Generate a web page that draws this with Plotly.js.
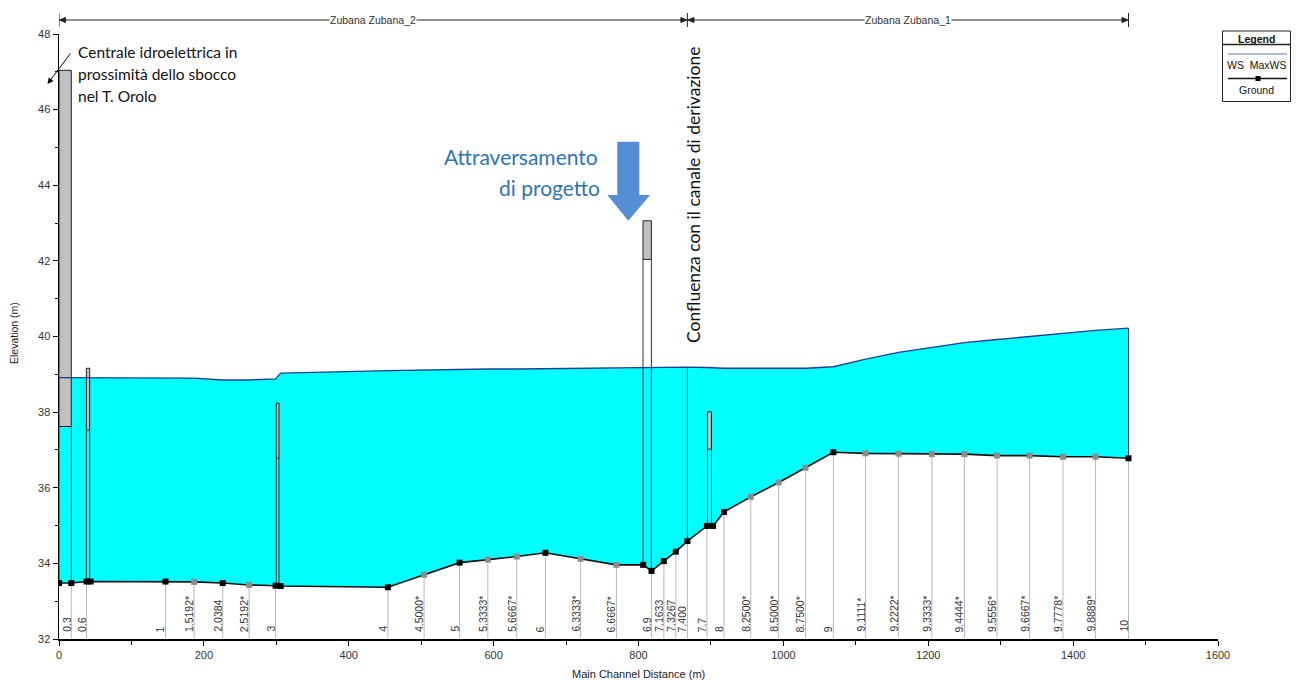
<!DOCTYPE html>
<html>
<head>
<meta charset="utf-8">
<script src="https://cdn.plot.ly/plotly-3.0.1.min.js"></script>
<style>
  html, body { margin: 0; padding: 0; background: #fff; }
  #chart { width: 1299px; height: 681px; }
</style>
</head>
<body>
<div id="chart"></div>
<script>
// Longitudinal profile of the Zubana: river stations, bed and water surface
const stationLabels = ['', '0.3', '0.6', '', '1', '1.5192*', '2.0384', '2.5192*', '3', '',
  '4', '4.5000*', '5', '5.3333*', '5.6667*', '6', '6.3333*', '6.6667*', '', '6.9',
  '7.1633', '7.3267', '7.400', '7.7', '', '8', '8.2500*', '8.5000*', '8.7500*', '9',
  '9.1111*', '9.2222*', '9.3333*', '9.4444*', '9.5556*', '9.6667*', '9.7778*', '9.8889*', '10'];
const channelDistance = [0, 17, 38, 43.5, 147, 186.5, 226, 262.5, 299, 306,
  454, 504, 553, 592, 632, 671.5, 720, 769.5, 806.5, 818,
  835, 851.5, 867.5, 894.5, 903, 918, 955, 993.5, 1030.5, 1069,
  1113.5, 1159, 1205, 1250, 1295, 1340, 1386, 1431, 1476.5];
const groundElevation = [33.48, 33.48, 33.52, 33.52, 33.52, 33.51, 33.48, 33.43, 33.41, 33.40,
  33.37, 33.70, 34.02, 34.10, 34.18, 34.28, 34.12, 33.96, 33.96, 33.80,
  34.06, 34.31, 34.59, 34.99, 34.99, 35.36, 35.76, 36.14, 36.53, 36.94,
  36.91, 36.90, 36.89, 36.89, 36.85, 36.85, 36.82, 36.82, 36.78];
const wsElevation = [38.91, 38.91, 38.91, 38.90, 38.90, 38.90, 38.85, 38.85, 38.88, 39.03,
  39.10, 39.12, 39.13, 39.14, 39.14, 39.15, 39.16, 39.16, 39.17, 39.18,
  39.18, 39.19, 39.19, 39.18, 39.17, 39.16, 39.16, 39.16, 39.16, 39.20,
  39.40, 39.58, 39.72, 39.84, 39.92, 40.00, 40.08, 40.16, 40.22];

// Structures crossing the channel (deck extent and chords)
const deckLeft = [0, 37.8, 300, 806.2, 895.2];
const deckRight = [17, 42.4, 303.7, 817.8, 900.7];
const lowChord = [37.62, 37.53, 36.78, 42.04, 37.02];
const highChord = [47.04, 39.16, 38.24, 43.06, 38.01];

// Reaches and junction
const reachNames = ['Zubana Zubana_2', 'Zubana Zubana_1'];
const reachFrom = [0, 867.5];
const reachTo = [867.5, 1476.5];
const junctionStation = '7.400';

const Y_BOTTOM = 32;

function bedAt(d) {
  for (let i = 0; i < channelDistance.length - 1; i++) {
    const a = channelDistance[i], b = channelDistance[i + 1];
    if (d >= a && d <= b) {
      const t = b === a ? 0 : (d - a) / (b - a);
      return groundElevation[i] + t * (groundElevation[i + 1] - groundElevation[i]);
    }
  }
  return groundElevation[groundElevation.length - 1];
}

// plot-area geometry, used for the decorations placed around the axes
const PL = 59, PR = 1218, PT = 34, PB = 639;
const px = v => (v - PL) / (PR - PL);
const py = v => (PB - v) / (PB - PT);

const FONT = 'Liberation Sans, Arial, sans-serif';
const NOTE_FONT = 'Lato, "Open Sans", sans-serif';

// water body between bed and water surface
const water = {
  x: channelDistance.concat(channelDistance.slice().reverse()),
  y: wsElevation.concat(groundElevation.slice().reverse()),
  mode: 'none', fill: 'toself', fillcolor: '#00ffff', hoverinfo: 'skip'
};

// gray drop lines from each labelled section to the bottom of the plot
const dropX = [], dropY = [];
stationLabels.forEach((lab, i) => {
  if (!lab) return;
  dropX.push(channelDistance[i], channelDistance[i], null);
  dropY.push(groundElevation[i], Y_BOTTOM, null);
});
const drops = { x: dropX, y: dropY, mode: 'lines', line: { color: '#b8b8b8', width: 1 }, hoverinfo: 'skip' };

// decks
const deckX = [], deckY = [], sideX = [], sideY = [];
deckLeft.forEach((l, i) => {
  const r = deckRight[i];
  deckX.push(l, r, r, l, l, null);
  deckY.push(lowChord[i], lowChord[i], highChord[i], highChord[i], lowChord[i], null);
  sideX.push(l, l, null, r, r, null);
  sideY.push(bedAt(l), lowChord[i], null, bedAt(r), lowChord[i], null);
});
const decks = { x: deckX, y: deckY, mode: 'lines', fill: 'toself', fillcolor: '#c0c0c0',
  line: { color: '#222', width: 1 }, hoverinfo: 'skip' };
const sides = { x: sideX, y: sideY, mode: 'lines', line: { color: '#333', width: 1 }, hoverinfo: 'skip' };

const jIdx = stationLabels.indexOf(junctionStation);
const last = channelDistance.length - 1;
const edges = {
  x: [channelDistance[jIdx], channelDistance[jIdx], null, channelDistance[last], channelDistance[last]],
  y: [groundElevation[jIdx], wsElevation[jIdx], null, groundElevation[last], wsElevation[last]],
  mode: 'lines', line: { color: '#2a3550', width: 1 }, hoverinfo: 'skip'
};

const wsLine = { x: channelDistance, y: wsElevation, mode: 'lines',
  line: { color: '#1f3f8f', width: 1.3 }, name: 'WS MaxWS' };

const ground = {
  x: channelDistance, y: groundElevation, mode: 'lines+markers', name: 'Ground',
  line: { color: '#111', width: 1.6 },
  marker: { symbol: 'square', size: 6,
    color: stationLabels.map(l => l.indexOf('*') >= 0 ? '#8c8c8c' : '#000') }
};

const annotations = [];
function note(o) {
  annotations.push(Object.assign({ showarrow: false, xanchor: 'center', yanchor: 'middle',
    xref: 'paper', yref: 'paper' }, o));
}
// section labels
stationLabels.forEach((lab, i) => {
  if (!lab) return;
  note({
    x: channelDistance[i], xref: 'x', y: py(634),
    text: lab, textangle: -90, yanchor: 'bottom', xshift: -5,
    font: { family: FONT, size: 10.5, color: '#333' }
  });
});
// reach names
reachNames.forEach((n, i) => {
  note({
    x: (reachFrom[i] + reachTo[i]) / 2, xref: 'x', y: py(20),
    text: n, bgcolor: '#fff', borderpad: 0,
    font: { family: FONT, size: 10.5, color: '#333' }
  });
});
// axis titles
note({ x: px(638.5), y: py(674), text: 'Main Channel Distance (m)',
  font: { family: FONT, size: 11, color: '#222' } });
note({ x: px(14), y: py(333), text: 'Elevation (m)', textangle: -90,
  font: { family: FONT, size: 10.5, color: '#222' } });

// notes
['Centrale idroelettrica in', 'prossimità dello sbocco', 'nel T. Orolo'].forEach((t, i) => {
  note({ x: px(76), y: py(51.5 + 22.2 * i), text: t, xanchor: 'left',
    font: { family: NOTE_FONT, size: 15.5, color: '#111' } });
});
annotations.push({ x: px(47.5), xref: 'paper', y: py(84), yref: 'paper', text: '',
  showarrow: true, ax: 24, ay: -32, arrowhead: 2, arrowsize: 1.2, arrowwidth: 1, arrowcolor: '#000' });

note({ x: px(600), y: py(156), text: 'Attraversamento', xanchor: 'right',
  font: { family: NOTE_FONT, size: 21, color: '#2e75b6' } });
note({ x: px(602), y: py(188), text: 'di progetto', xanchor: 'right',
  font: { family: NOTE_FONT, size: 21, color: '#2e75b6' } });
note({ x: px(694), y: py(195), text: 'Confluenza con il canale di derivazione', textangle: -90,
  font: { family: NOTE_FONT, size: 17.5, color: '#111' } });

// legend box texts
note({ x: px(1257), y: py(38.5), text: '<b>Legend</b>', font: { family: FONT, size: 10.5, color: '#111' } });
note({ x: px(1257), y: py(65.5), text: 'WS  MaxWS', font: { family: FONT, size: 10.5, color: '#111' } });
note({ x: px(1257), y: py(90), text: 'Ground', font: { family: FONT, size: 10.5, color: '#111' } });

const shapes = [];
// reach bar along the top
const barY = py(20);
shapes.push({ type: 'line', xref: 'x', yref: 'paper', x0: reachFrom[0], x1: reachTo[1], y0: barY, y1: barY,
  line: { color: '#222', width: 1 } });
[reachFrom[0], reachTo[0], reachTo[1]].forEach(d => {
  shapes.push({ type: 'line', xref: 'x', yref: 'paper', x0: d, x1: d, y0: py(13), y1: py(27),
    line: { color: '#222', width: 1 } });
});
const ah = 2.5 / (PB - PT), al = 8;
reachNames.forEach((n, i) => {
  const a = reachFrom[i], b = reachTo[i];
  shapes.push({ type: 'path', xref: 'x', yref: 'paper', fillcolor: '#222', line: { color: '#222', width: 1 },
    path: `M ${a + 1} ${barY} L ${a + 1 + al} ${barY + ah} L ${a + 1 + al} ${barY - ah} Z` });
  shapes.push({ type: 'path', xref: 'x', yref: 'paper', fillcolor: '#222', line: { color: '#222', width: 1 },
    path: `M ${b - 1} ${barY} L ${b - 1 - al} ${barY + ah} L ${b - 1 - al} ${barY - ah} Z` });
});

// blue arrow over the designed crossing
const A = { sl: 617.3, sr: 639.3, top: 141.7, hb: 195, hl: 607.3, hr: 650, tx: 628.3, ty: 220.7 };
shapes.push({ type: 'path', xref: 'paper', yref: 'paper', fillcolor: '#558ed5', line: { width: 0 },
  path: `M ${px(A.sl)} ${py(A.top)} L ${px(A.sr)} ${py(A.top)} L ${px(A.sr)} ${py(A.hb)} L ${px(A.hr)} ${py(A.hb)} ` +
        `L ${px(A.tx)} ${py(A.ty)} L ${px(A.hl)} ${py(A.hb)} L ${px(A.sl)} ${py(A.hb)} Z` });

// legend frame
shapes.push({ type: 'rect', xref: 'paper', yref: 'paper', x0: px(1222.5), x1: px(1290.5), y0: py(101.5), y1: py(31),
  line: { color: '#222', width: 1 }, fillcolor: 'rgba(0,0,0,0)' });
shapes.push({ type: 'line', xref: 'paper', yref: 'paper', x0: px(1222.5), x1: px(1290.5), y0: py(44.5), y1: py(44.5),
  line: { color: '#222', width: 1.5 } });
shapes.push({ type: 'line', xref: 'paper', yref: 'paper', x0: px(1228), x1: px(1287), y0: py(54), y1: py(54),
  line: { color: '#5a6fb0', width: 1.2 } });
shapes.push({ type: 'line', xref: 'paper', yref: 'paper', x0: px(1228), x1: px(1287), y0: py(78.5), y1: py(78.5),
  line: { color: '#111', width: 1.4 } });
shapes.push({ type: 'rect', xref: 'paper', yref: 'paper', x0: px(1255.5), x1: px(1260.5), y0: py(81), y1: py(76),
  line: { width: 0 }, fillcolor: '#000' });

const axisCommon = {
  ticks: 'outside', ticklen: 5, tickwidth: 1, tickcolor: '#000',
  showline: true, linecolor: '#000', linewidth: 1.5,
  showgrid: false, zeroline: false,
  tickfont: { family: FONT, size: 11, color: '#333' }
};

const layout = {
  width: 1299, height: 681,
  margin: { l: PL, r: 1299 - PR, t: PT, b: 681 - PB, pad: 0 },
  paper_bgcolor: '#fff', plot_bgcolor: '#fff',
  showlegend: false,
  xaxis: Object.assign({}, axisCommon, { range: [0, 1600], tick0: 0, dtick: 200,
    minor: { dtick: 100, ticks: 'outside', ticklen: 4, tickcolor: '#000', showgrid: false } }),
  yaxis: Object.assign({}, axisCommon, { range: [32, 48], tick0: 32, dtick: 2,
    minor: { dtick: 1, ticks: 'outside', ticklen: 3, tickcolor: '#000', showgrid: false } }),
  annotations: annotations,
  shapes: shapes
};

Plotly.newPlot('chart', [water, drops, decks, sides, edges, wsLine, ground], layout,
  { displayModeBar: false, staticPlot: true });
</script>
</body>
</html>
